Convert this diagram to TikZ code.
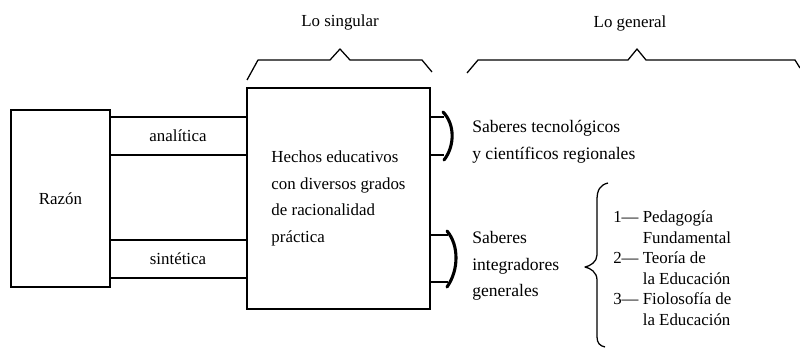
\documentclass[tikz,border=0pt]{standalone}
\usepackage{fontspec}
\setmainfont{Liberation Serif}
\usetikzlibrary{positioning,calc}

\begin{document}
\begin{tikzpicture}[x=0.025cm, y=-0.025cm,
    every node/.style={font=\fontsize{12}{19}\selectfont, inner sep=0pt},
    caja/.style={draw, line width=1pt},
    rama/.style={line width=1pt},
    gancho/.style={line width=2.2pt, line cap=round},
    llave/.style={line width=0.9pt, line join=round}]
    \useasboundingbox (0,0) rectangle (800,348);

    % Cajas
    \node[caja, minimum width=2.475cm, minimum height=4.425cm] (razon) at (60.5,198.5) {Razón};
    \node[caja, minimum width=4.575cm, minimum height=5.525cm, align=left] (hechos) at (338.5,198.5)
        {Hechos educativos\\con diversos grados\\de racionalidad\\práctica};

    % Razon analitica y sintetica
    \draw[rama] (razon.east |- 0,117) -- (hechos.west |- 0,117);
    \draw[rama] (razon.east |- 0,155) -- (hechos.west |- 0,155);
    \node (analitica) at (178,136) {analítica};
    \draw[rama] (razon.east |- 0,240) -- (hechos.west |- 0,240);
    \draw[rama] (razon.east |- 0,278) -- (hechos.west |- 0,278);
    \node (sintetica) at (178,259) {sintética};

    % Salidas
    \draw[rama] (hechos.east |- 0,117) -- (444,117);
    \draw[rama] (hechos.east |- 0,155) -- (444,155);
    \draw[gancho] (443,112) .. controls (455,124) and (455,146) .. (444,160);
    \draw[rama] (hechos.east |- 0,235) -- (448,235);
    \draw[rama] (hechos.east |- 0,282) -- (448,282);
    \draw[gancho] (447,231) .. controls (459,245) and (459,270) .. (447,287);
    \node[anchor=west, align=left, font=\fontsize{12.5}{19}\selectfont] (tecno) at (472,142)
        {Saberes tecnológicos\\y científicos regionales};
    \node[anchor=west, align=left, font=\fontsize{12.5}{19}\selectfont] (integ) at (472,266)
        {Saberes\\integradores\\generales};

    % Llaves superiores
    \draw[llave] (247,80) -- (258,60) -- (330,60) -- (340,49) -- (350,60) -- (422,60) -- (432,72);
    \node (singular) at (340,22) {Lo singular};
    \draw[llave] (467,73) -- (478,60) -- (628,60) -- (637,49) -- (646,60) -- (795,60) -- (800,68);
    \node (general) at (630,23) {Lo general};

    % Lista
    \draw[llave] (608,183) .. controls (600,185) and (597,190) .. (597,200) -- (597,255)
        .. controls (597,262) and (590,266) .. (585,267) .. controls (590,268) and (597,272) .. (597,280)
        -- (597,337) .. controls (597,343) and (600,346) .. (605,347);
    \node[anchor=west, font=\fontsize{12}{14.6}\selectfont] (lista) at (613,270)
        {\begin{tabular}{@{}l@{ }l@{}}
        1— & Pedagogía\\ & Fundamental\\
        2— & Teoría de\\ & la Educación\\
        3— & Fiolosofía de\\ & la Educación
        \end{tabular}};
\end{tikzpicture}
\end{document}
